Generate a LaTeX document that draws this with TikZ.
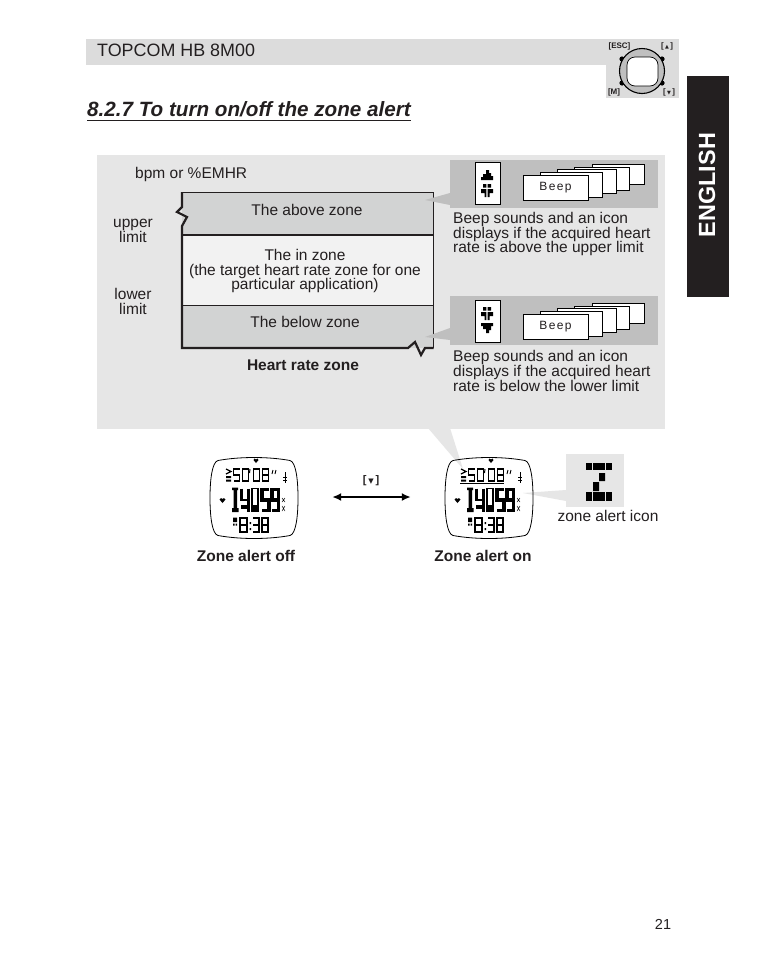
\documentclass[tikz,border=0pt]{standalone}
\usepackage{fontspec}
\setmainfont{Liberation Sans}
\newfontfamily\symfont{DejaVu Sans}
\usetikzlibrary{arrows.meta,calc}
\definecolor{ink}{HTML}{231F20}
\definecolor{panelgrey}{HTML}{E6E6E6}
\definecolor{midgrey}{HTML}{BFBFBF}
\definecolor{zonegrey}{HTML}{D2D3D3}
\definecolor{zonelight}{HTML}{F2F2F2}
\definecolor{headgrey}{HTML}{DCDCDC}
\tikzset{
  body/.style={text=ink,inner sep=0pt,font=\fontsize{15.5}{14.6}\selectfont},
  bodyb/.style={text=ink,inner sep=0pt,font=\fontsize{15.5}{14.6}\selectfont\bfseries},
  keylab/.style={text=ink,inner sep=0pt,font=\fontsize{8}{8}\selectfont\bfseries},
  beepbox/.style={draw=black,fill=white,line width=0.8pt},
  zoneline/.style={draw=ink,line width=0.8pt},
  seg/.style={draw=black,line cap=butt,line join=miter}
}
% seven-segment style figure: x, y, width, half height, line width, path
\newcommand{\dg}[6]{\begin{scope}[shift={(#1,#2)},x=#3pt,y=-#4pt]\draw[seg,line width=#5pt] #6;\end{scope}}
\def\Dzero{(0,0) rectangle (1,2)}
\def\Done{(1,0) -- (1,2)}
\def\Dthree{(0,0) -- (1,0) -- (1,2) -- (0,2) (0,1) -- (1,1)}
\def\Dfour{(0,0) -- (0,1) -- (1,1) (1,0) -- (1,2)}
\def\Dfive{(1,0) -- (0,0) -- (0,1) -- (1,1) -- (1,2) -- (0,2)}
\def\Deight{(0,0) rectangle (1,2) (0,1) -- (1,1)}
\def\Dnine{(1,1) -- (0,1) -- (0,0) -- (1,0) -- (1,2) -- (0,2)}
% watch face, centred on (254,498) before shifting
\newcommand{\watchface}{%
  \draw[black,line width=0.8pt] (218,460.5) .. controls (240,456.5) and (268,456.5) .. (290,460.5)
    .. controls (296,462) and (298,480) .. (298,498)
    .. controls (298,516) and (296,534) .. (290,535.5)
    .. controls (268,539.5) and (240,539.5) .. (218,535.5)
    .. controls (212,534) and (210,516) .. (210,498)
    .. controls (210,480) and (212,462) .. (218,460.5) -- cycle;
  \fill[black] (256,463) -- (253.5,460) -- (254.5,458.5) -- (256,459.5) -- (257.5,458.5) -- (258.5,460) -- cycle;
  \fill[black] (222.5,503) -- (219.5,499.5) -- (221,498) -- (222.5,499) -- (224,498) -- (225.5,499.5) -- cycle;
  \draw[black,line width=1.2pt] (226,469) -- (231,471.5) -- (226,474);
  \fill[black] (226,476) rectangle (231,478) (226,479.5) rectangle (231,481.5);
  \dg{233.5}{469}{6}{6}{1.3}{\Dfive}
  \dg{242.5}{469}{6}{6}{1.3}{\Dzero}
  \draw[black,line width=1pt] (250,469) -- (249.5,473);
  \dg{253.5}{469}{6}{6}{1.3}{\Dzero}
  \dg{262.5}{469}{6}{6}{1.3}{\Deight}
  \draw[black,line width=0.9pt] (272,474) -- (273,470) (275,474) -- (276,470);
  \draw[black,line width=0.8pt] (285,472) -- (285,483) (283,477) -- (287,477) (283,480) -- (287,480);
  % large row
  \fill[black] (232,487.5) rectangle (238,490) (233.5,487.5) rectangle (237,512) (232,508) rectangle (238.5,512);
  \dg{241.5}{488.5}{7}{11.5}{2.2}{\Dfour}
  \fill[black] (240.5,505) rectangle (250,509);
  \dg{252}{488.5}{6}{11.5}{1.6}{\Dzero}
  \fill[black] (251,505) rectangle (259,511);
  \dg{262}{489.5}{7}{10.5}{3.2}{\Dfive}
  \dg{272}{489.5}{6.5}{10.5}{3.2}{\Dnine}
  \draw[black,line width=0.5pt] (282,498) -- (285,502) (285,498) -- (282,502) (282,506) -- (285,511) (285,506) -- (282,511);
  % lower row
  \fill[black] (233,517.5) rectangle (237,522) (233,523.5) rectangle (234.5,525.5) (235.5,523.5) rectangle (237,525.5);
  \dg{240}{518}{7}{7}{1.8}{\Deight}
  \fill[black] (249.5,522) rectangle (251,524) (249.5,528) rectangle (251,530);
  \dg{253}{518}{6}{7}{1.1}{\Dthree}
  \dg{262}{518}{6}{7}{1.1}{\Deight}
}
\newcommand{\upglyph}[2]{\begin{scope}[shift={(#1,#2)}]\fill[black] (5,0) rectangle (8,10) (0,7) rectangle (5,10) (2,4) rectangle (5,7) (8,3) rectangle (10,10) (10,6) rectangle (12,10);\end{scope}}
\newcommand{\midglyph}[2]{\begin{scope}[shift={(#1,#2)}]\fill[black] (2,0) rectangle (5.4,3.5) (6.6,0) rectangle (10,3.5) (0,5) rectangle (5.4,9) (6.6,5) rectangle (12,9) (3.5,9) rectangle (5.4,13) (6.6,9) rectangle (8.5,13);\end{scope}}
\newcommand{\dnglyph}[2]{\begin{scope}[shift={(#1,#2)}]\fill[black] (0,0) rectangle (12,3) (2,3) rectangle (5,6) (5,3) rectangle (8,10) (8,3) rectangle (10,7);\end{scope}}
\newcommand{\beepstack}[1]{\begin{scope}[yshift=-#1pt]
  \draw[beepbox] (592,164) rectangle (644,184);
  \draw[beepbox] (574,167) rectangle (629,190);
  \draw[beepbox] (557,169) rectangle (616,193);
  \draw[beepbox] (540,172) rectangle (602,197);
  \draw[beepbox] (523,175) rectangle (588,200);
  \node[text=ink,inner sep=0pt,font=\fontsize{12}{12}\selectfont\addfontfeature{LetterSpace=12}] at (555.5,187.5) {Beep};
\end{scope}}
\begin{document}
\begin{tikzpicture}[x=1pt,y=-1pt]
\useasboundingbox (0,0) rectangle (761,954);
\fill[white] (0,0) rectangle (761,954);
% header
\fill[headgrey] (86,39) rectangle (679,65);
\fill[headgrey] (606,39) rectangle (679,98);
\node[anchor=base west,text=ink,inner sep=0pt,font=\fontsize{17.9}{18}\selectfont] (head) at (97,56) {TOPCOM HB 8M00};
% dial
\foreach \a/\b in {622/59,662/59,622/83,662/83}{\fill[black] (\a,\b) circle (2.6);}
\draw[black,line width=1.1pt,fill=midgrey] (642,71) circle (22.5);
\draw[black,line width=0.7pt,fill=white,rounded corners=8pt] (627,57) rectangle (658,86);
\node[keylab] (esc) at (619.5,46) {[ESC]};
\node[keylab] (m) at (614,92) {[M]};
\node[keylab] (up) at (667,46) {[\,{\symfont\fontsize{5}{5}\selectfont▲}\,]};
\node[keylab] (down) at (669,92) {[\,{\symfont\fontsize{5}{5}\selectfont▼}\,]};
% tab
\fill[ink] (687,76) rectangle (729,297);
\node[rotate=90,text=white,inner sep=0pt,font=\fontsize{23.4}{24}\selectfont\bfseries] (tab) at (707,185) {ENGLISH};
% title
\node[anchor=base west,text=ink,inner sep=0pt,font=\fontsize{20.65}{21}\selectfont\bfseries\itshape] (title) at (87,116) {8.2.7 To turn on/off the zone alert};
\draw[ink,line width=1.2pt] (87,120.5) -- (411,120.5);
% main panel
\fill[panelgrey] (97,155) rectangle (665,429);
\fill[panelgrey] (428,428) -- (450,428) -- (463,469) -- cycle;
% zones
\fill[zonegrey] (182,192) rectangle (433.5,235);
\fill[zonelight] (182,235) rectangle (433.5,305);
\fill[zonegrey] (182,305) rectangle (433.5,348);
\draw[zoneline] (182,192) -- (433.5,192) -- (433.5,348);
\draw[zoneline,line width=1.2pt] (182,235) -- (433.5,235);
\draw[zoneline] (182,305) -- (433.5,305);
\draw[ink,line width=2.2pt,miter limit=6] (182,192) -- (182,207) -- (177,212) -- (187,217) -- (182,226) -- (182,348) -- (408,348) -- (415,342) -- (421,355) -- (425,348) -- (433.5,348);
% right grey panels and wedges
\fill[midgrey] (450,160) rectangle (658,208);
\fill[midgrey] (450,193) -- (450,205) -- (425,200) -- cycle;
\fill[midgrey] (450,296) rectangle (658,345);
\fill[midgrey] (450,328) -- (450,340) -- (425,337) -- cycle;
\draw[black,line width=0.8pt,fill=white] (475,162) rectangle (500,204);
\draw[black,line width=0.8pt,fill=white] (475,300) rectangle (500,342);
\upglyph{481}{170}
\midglyph{481}{184}
\midglyph{481}{307}
\dnglyph{481}{323}
\beepstack{0}
\beepstack{139.5}
% texts in panel
\node[body,anchor=base west] (bpm) at (135,178) {bpm or \%EMHR};
\node[body,align=center] (upper) at (133,231) {upper\\limit};
\node[body,align=center] (lower) at (133,301.5) {lower\\limit};
\node[body] (above) at (307,210) {The above zone};
\node[body,align=center] (inzone) at (305,271) {The in zone\\(the target heart rate zone for one\\particular application)};
\node[body] (below) at (305,322) {The below zone};
\node[bodyb] (hrz) at (303,365.5) {Heart rate zone};
\node[body,align=left,anchor=west] (t1) at (453,234) {Beep sounds and an icon\\displays if the acquired heart\\rate is above the upper limit};
\node[body,align=left,anchor=west] (t2) at (453,371) {Beep sounds and an icon\\displays if the acquired heart\\rate is below the lower limit};
% zone alert icon
\fill[panelgrey] (566,454) rectangle (624,507);
\fill[panelgrey] (566,490) -- (566,501) -- (523,493) -- cycle;
\foreach \a in {586,592.6,599.2,605.8}{\fill[black] (\a,463) rectangle +(6.2,6.5);\fill[black] (\a,492) rectangle +(6.2,9);}
\fill[black] (599,473) rectangle (605,481) (593,482) rectangle (599,491);
\node[body] (ziconlab) at (608,516) {zone alert icon};
% watches
\watchface
\begin{scope}[xshift=235pt]
\watchface
\draw[black,line width=0.8pt] (225,483.5) -- (269,483.5);
\end{scope}
\node[minimum width=88pt,minimum height=82pt,inner sep=0pt] (off) at (254,497) {};
\node[minimum width=88pt,minimum height=82pt,inner sep=0pt] (on) at (489,497) {};
\draw[{Latex[length=9pt,width=8pt]}-{Latex[length=9pt,width=8pt]},black,line width=2.2pt,shorten <=34pt,shorten >=34pt] (off.east) -- (on.west);
\node[text=ink,inner sep=0pt,font=\fontsize{11}{11}\selectfont\bfseries] (press) at (371,481) {[\,{\symfont\fontsize{7}{7}\selectfont▼}\,]};
\node[bodyb] (zoff) at (246,556) {Zone alert off};
\node[bodyb] (zon) at (483,556) {Zone alert on};
\node[text=ink,inner sep=0pt,font=\fontsize{14.5}{15}\selectfont] (page) at (663,924) {21};
\end{tikzpicture}
\end{document}
